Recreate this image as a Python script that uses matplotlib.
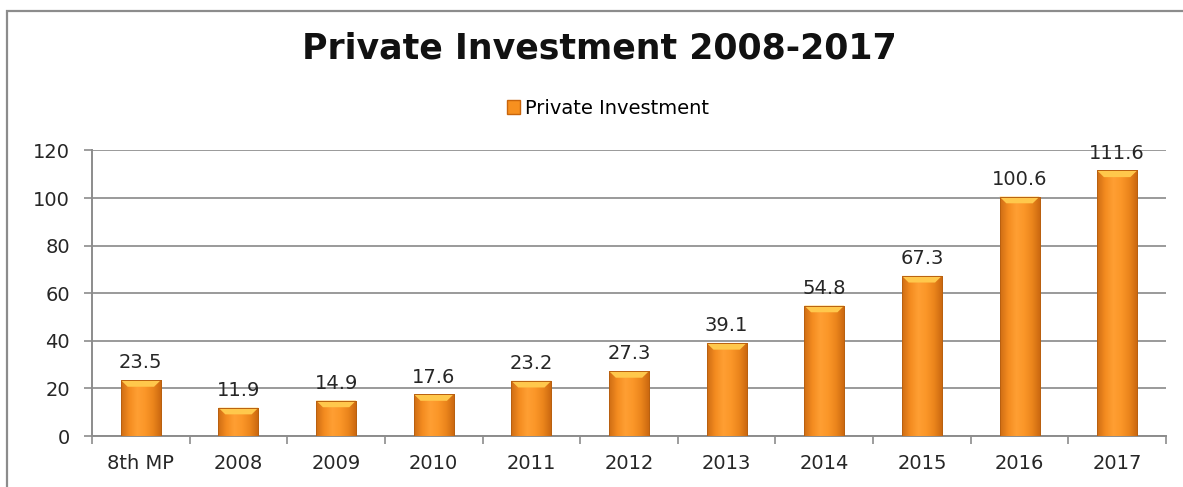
import numpy as np
import matplotlib
matplotlib.use("Agg")
import matplotlib.pyplot as plt
from matplotlib.patches import Rectangle, Polygon
from matplotlib.colors import LinearSegmentedColormap

categories = ["8th MP", "2008", "2009", "2010", "2011", "2012",
              "2013", "2014", "2015", "2016", "2017"]
values = [23.5, 11.9, 14.9, 17.6, 23.2, 27.3, 39.1, 54.8, 67.3, 100.6, 111.6]

fig = plt.figure(figsize=(11.83, 4.87), dpi=100)
ax = fig.add_axes([0.0778, 0.1047, 0.9078, 0.5863])

# chart frame
fig.patches.append(Rectangle((7 / 1183, -0.1), 1.2, 1.1 - 11 / 487,
                             transform=fig.transFigure, fill=False,
                             edgecolor="#8c8c8c", lw=1.6))

x = np.arange(len(categories))
width = 0.41
bars = ax.bar(x, values, width, color="#f7901f", zorder=2)

# horizontal shading for the cylinder look
shade = LinearSegmentedColormap.from_list(
    "shade", ["#cf6d14", "#f48c20", "#ff9f33", "#fb9628", "#ea841b", "#c9660f"])
grad = np.linspace(0, 1, 64).reshape(1, -1)
for b, v in zip(bars, values):
    x0 = b.get_x()
    w = b.get_width()
    im = ax.imshow(grad, cmap=shade, aspect="auto", zorder=3,
                   extent=(x0, x0 + w, 0, v), interpolation="bicubic")
    im.set_clip_path(b)
    # bevelled top
    bh = 2.8
    inset = 0.07
    top = Polygon([(x0, v), (x0 + w, v), (x0 + w - inset, v - bh),
                   (x0 + inset, v - bh)], closed=True,
                  facecolor="#ffc84c", edgecolor="none", zorder=4)
    ax.add_patch(top)
    ax.add_patch(Rectangle((x0, 0), w, v, fill=False, edgecolor="#b96010",
                           lw=0.7, zorder=5))
    ax.text(b.get_x() + w / 2, v + 3.2, f"{v:.1f}", ha="center", va="bottom",
            fontsize=14, color="#262626", zorder=6)

ax.set_xlim(-0.5, len(categories) - 0.5)
ax.set_ylim(0, 120)
ax.set_yticks(range(0, 121, 20))
ax.set_xticks(x)
ax.set_xticklabels(categories)
ax.set_xticks(np.arange(len(categories) + 1) - 0.5, minor=True)
ax.tick_params(axis="x", which="major", length=0, pad=13,
               labelsize=14, labelcolor="#262626")
ax.tick_params(axis="x", which="minor", length=6, width=1.2, color="#8c8c8c",
               direction="out")
ax.tick_params(axis="y", length=6, width=1.2, color="#8c8c8c", pad=10,
               labelsize=14, labelcolor="#262626")
ax.yaxis.grid(True, color="#9a9a9a", lw=1.4, zorder=0)
ax.set_axisbelow(True)
for s in ["top", "right"]:
    ax.spines[s].set_visible(False)
for s in ["left", "bottom"]:
    ax.spines[s].set_color("#8c8c8c")
    ax.spines[s].set_linewidth(1.4)

fig.text(0.507, 0.90, "Private Investment 2008-2017", ha="center",
         va="center", fontsize=25, fontweight="bold", color="#111111")

handle = Rectangle((0, 0), 1, 1, facecolor="#f7901f", edgecolor="#c8650c")
fig.legend([handle], ["Private Investment"], loc="center",
           bbox_to_anchor=(0.514, 0.778), frameon=False, fontsize=14,
           handlelength=0.7, handleheight=0.7, handletextpad=0.25)

fig.savefig("out.png", dpi=100)
